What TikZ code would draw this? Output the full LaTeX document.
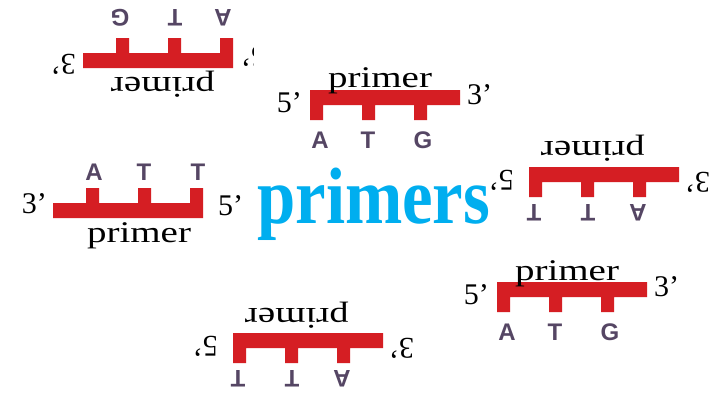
\documentclass[tikz,border=0pt]{standalone}
\usepackage{fontspec}
\setmainfont{Liberation Serif}
\newfontfamily\nucfont{Liberation Sans}

\definecolor{barred}{RGB}{213,30,35}
\definecolor{nuccol}{RGB}{85,70,100}
\definecolor{titleblue}{RGB}{0,174,239}

\tikzset{
  strand/.style={fill=barred, draw=none},
  nucleotide/.style={font=\nucfont\bfseries\fontsize{24}{24}\selectfont,
    text=nuccol, inner sep=0pt, transform shape},
  endlabel/.style={font=\fontsize{30}{30}\selectfont, inner sep=0pt, transform shape},
  strandtag/.style={font=\fontsize{30}{30}\selectfont, inner sep=0pt, transform shape},
}

% 5'-ATG-3' primer: backbone with three bases hanging below;
% #2 is the baseline of the word "primer"
\newcommand\primerfwd[2]{%
  \fill[strand] (0,0) -- (150,0) -- (150,15) -- (117,15) -- (117,30) -- (104,30)
    -- (104,15) -- (65,15) -- (65,30) -- (52,30) -- (52,15) -- (13,15)
    -- (13,30) -- (0,30) -- cycle;
  \node[nucleotide] (#1-b1) at (10,50) {A};
  \node[nucleotide] (#1-b2) at (58,50) {T};
  \node[nucleotide] (#1-b3) at (113,50) {G};
  \node[strandtag, anchor=base] (#1-tag) at (70,#2) {\scalebox{1.3}[1]{primer}};
  \node[endlabel, anchor=base east] (#1-five) at (-8,22) {5’};
  \node[endlabel, anchor=base west] (#1-three) at (157,14) {3’};
}

% 3'-ATT-5' primer: backbone with three bases standing on top
\newcommand\primerrev[2]{%
  \fill[strand] (0,0) -- (33,0) -- (33,-15) -- (46,-15) -- (46,0) -- (85,0)
    -- (85,-15) -- (98,-15) -- (98,0) -- (137,0) -- (137,-15) -- (150,-15)
    -- (150,15) -- (0,15) -- cycle;
  \node[nucleotide] (#1-b1) at (41,-31) {A};
  \node[nucleotide] (#1-b2) at (91,-31) {T};
  \node[nucleotide] (#1-b3) at (145,-31) {T};
  \node[strandtag, anchor=base] (#1-tag) at (86,#2) {\scalebox{1.3}[1]{primer}};
  \node[endlabel, anchor=base east] (#1-three) at (-6,10) {3’};
  \node[endlabel, anchor=base west] (#1-five) at (165,12) {5’};
}

\begin{document}
\begin{tikzpicture}[x=1pt, y=-1pt]
  \fill[white] (0,0) rectangle (712,394);
  \useasboundingbox (0,0) rectangle (712,394);

  % upside-down primer, its 5' end cut off at the right
  \begin{scope}
    \clip (0,0) rectangle (253,394);
    \begin{scope}[shift={(233,68)}, rotate=180]
      \primerfwd{pa}{-9}
    \end{scope}
  \end{scope}

  \begin{scope}[shift={(310,90)}]
    \primerfwd{pb}{-3}
  \end{scope}

  \begin{scope}[shift={(679,182)}, rotate=180]
    \primerrev{pc}{41}
  \end{scope}

  \begin{scope}[shift={(53,203)}]
    \primerrev{pd}{39}
  \end{scope}

  \begin{scope}[shift={(497,282)}]
    \primerfwd{pe}{-2}
  \end{scope}

  \begin{scope}[shift={(383,348)}, rotate=180]
    \primerrev{pf}{40}
  \end{scope}

  % title word
  \node[anchor=base west, inner sep=0pt, text=titleblue,
        font=\bfseries\fontsize{80}{80}\selectfont] (title) at (257,223)
        {\scalebox{0.86}[1]{primers}};
\end{tikzpicture}
\end{document}
